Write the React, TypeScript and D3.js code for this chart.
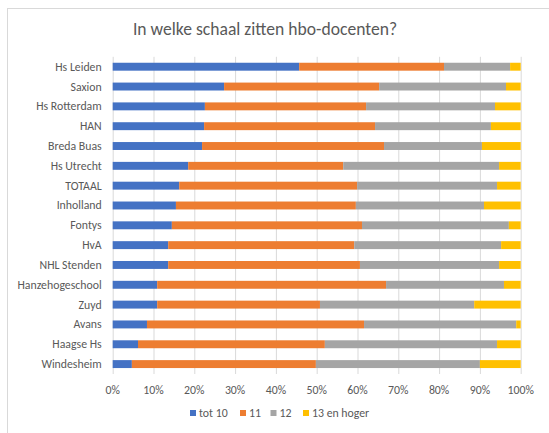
import { useEffect, useRef } from 'react'
import * as d3 from 'd3'

const categories = [
  'Hs Leiden', 'Saxion', 'Hs Rotterdam', 'HAN', 'Breda Buas', 'Hs Utrecht', 'TOTAAL', 'Inholland',
  'Fontys', 'HvA', 'NHL Stenden', 'Hanzehogeschool', 'Zuyd', 'Avans', 'Haagse Hs', 'Windesheim'
]
const seriesNames = ['tot 10', '11', '12', '13 en hoger']
const seriesColors = ['#4472C4', '#ED7D31', '#A5A5A5', '#FFC000']

// percentages per category
const tot10 = [45.7, 27.3, 22.6, 22.4, 21.9, 18.5, 16.3, 15.5, 14.5, 13.6, 13.6, 10.9, 10.9, 8.4, 6.2, 4.7]
const s11 = [35.5, 38.0, 39.5, 41.9, 44.6, 38.0, 43.6, 44.1, 46.6, 45.6, 47.0, 56.1, 39.9, 53.2, 45.8, 45.1]
const s12 = [16.2, 31.1, 31.6, 28.4, 24.0, 38.2, 34.3, 31.4, 36.0, 36.0, 34.1, 28.9, 37.8, 37.3, 42.2, 40.2]
const s13 = [2.6, 3.6, 6.3, 7.3, 9.5, 5.3, 5.8, 9.0, 2.9, 4.8, 5.3, 4.1, 11.4, 1.1, 5.8, 10.0]
const xTicks = [0, 10, 20, 30, 40, 50, 60, 70, 80, 90, 100]

const width = 549
const height = 433
const font = 'Carlito, Calibri, Lato, sans-serif'

export default function App() {
  const svgRef = useRef<SVGSVGElement>(null)

  useEffect(() => {
    if (!svgRef.current) return
    const svg = d3.select(svgRef.current)
    svg.selectAll('*').remove()

    const margin = { top: 56.8, left: 112.7, right: 28.3, bottom: 59 }

    const rows = categories.map((c, i) => ({
      cat: c,
      'tot 10': tot10[i],
      '11': s11[i],
      '12': s12[i],
      '13 en hoger': s13[i]
    }))
    const stacked = d3.stack<any>().keys(seriesNames).offset(d3.stackOffsetExpand)(rows)

    const x = d3.scaleLinear().domain([0, 1]).range([margin.left, width - margin.right])
    const y = d3.scaleBand().domain(categories)
      .range([margin.top, height - margin.bottom])
      .paddingInner(0.6).paddingOuter(0.3)

    // chart frame
    svg.append('rect')
      .attr('x', 7.5).attr('y', 8.5)
      .attr('width', 560).attr('height', 440)
      .style('fill', '#fff')
      .style('stroke', '#d9d9d9')

    // title
    svg.append('text')
      .attr('x', 265).attr('y', 35)
      .attr('text-anchor', 'middle')
      .style('fill', '#595959')
      .style('font-size', '17.6px')
      .style('font-family', font)
      .text('In welke schaal zitten hbo-docenten?')

    // gridlines
    svg.append('g').selectAll('line')
      .data(xTicks)
      .enter()
      .append('line')
      .attr('x1', d => x(d / 100) + 0.5)
      .attr('x2', d => x(d / 100) + 0.5)
      .attr('y1', margin.top)
      .attr('y2', height - margin.bottom)
      .style('stroke', '#d9d9d9')
      .style('stroke-width', '1px')

    // bars
    svg.append('g').selectAll('g')
      .data(stacked)
      .enter()
      .append('g')
      .style('fill', (_, i) => seriesColors[i])
      .selectAll('rect')
      .data(d => d)
      .enter()
      .append('rect')
      .attr('x', d => x(d[0]))
      .attr('y', d => y(d.data.cat)!)
      .attr('width', d => x(d[1]) - x(d[0]))
      .attr('height', y.bandwidth())

    // category labels
    svg.append('g').selectAll('text')
      .data(categories)
      .enter()
      .append('text')
      .attr('x', margin.left - 11)
      .attr('y', d => y(d)! + y.bandwidth() / 2 + 4)
      .attr('text-anchor', 'end')
      .style('fill', '#595959')
      .style('font-size', '11.8px')
      .style('font-family', font)
      .text(d => d)

    // x tick labels
    svg.append('g').selectAll('text')
      .data(xTicks)
      .enter()
      .append('text')
      .attr('x', d => x(d / 100))
      .attr('y', height - margin.bottom + 20)
      .attr('text-anchor', 'middle')
      .style('fill', '#595959')
      .style('font-size', '11.8px')
      .style('font-family', font)
      .text(d => `${d}%`)

    // legend
    const legendX = [190, 240, 270.5, 303]
    const legend = svg.append('g').selectAll('g')
      .data(seriesNames)
      .enter()
      .append('g')
      .attr('transform', (_, i) => `translate(${legendX[i]},${413})`)
    legend.append('rect')
      .attr('x', 0).attr('y', -3)
      .attr('width', 6).attr('height', 6)
      .style('fill', (_, i) => seriesColors[i])
    legend.append('text')
      .attr('x', 9).attr('y', 4)
      .style('fill', '#595959')
      .style('font-size', '11.8px')
      .style('font-family', font)
      .text(d => d)
  }, [])

  return (
    <div style={{ position: 'absolute', left: 0, top: 0, width, height, overflow: 'hidden', background: '#fff' }}>
      <svg ref={svgRef} width={width} height={height} />
    </div>
  )
}
